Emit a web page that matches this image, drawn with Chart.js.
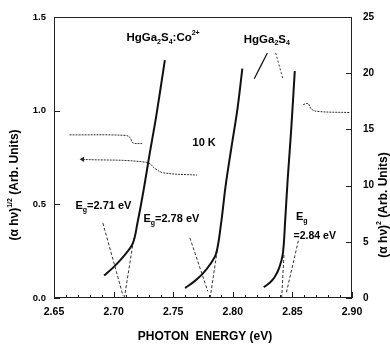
<!doctype html>
<html lang="en">
<head>
	<meta charset="utf-8">
	<title>Photon energy</title>
	<style>
		* { margin: 0; padding: 0; }
		body { background: #fff; }
		.chartBox { width: 390px; height: 344px; }
	</style>
</head>
<body>
	<div class="chartBox">
		<canvas id="gapChart"></canvas>
	</div>
	<script src="https://cdn.jsdelivr.net/npm/chart.js"></script>
	<script>
		// tick labels
		const xTicks = [2.65, 2.70, 2.75, 2.80, 2.85, 2.90]
		const leftTicks = [0.0, 0.5, 1.0, 1.5]
		const rightTicks = [0, 5, 10, 15, 20, 25]

		// HgGa2S4:Co2+ curve, (a hv)^1/2 on the left axis
		const coX = [2.692, 2.700, 2.708, 2.716, 2.720, 2.725, 2.730, 2.736, 2.743]
		const coY = [0.12, 0.165, 0.22, 0.29, 0.40, 0.57, 0.76, 0.98, 1.27]

		// HgGa2S4 curves, (a hv)^2 on the right axis
		const hgAX = [2.760, 2.768, 2.775, 2.781, 2.786, 2.790, 2.794, 2.799, 2.804, 2.808]
		const hgAY = [0.88, 1.5, 2.19, 3.0, 3.95, 6.5, 10.0, 13.5, 16.9, 20.4]
		const hgBX = [2.826, 2.831, 2.835, 2.839, 2.842, 2.844, 2.846, 2.849, 2.852]
		const hgBY = [0.96, 1.35, 1.84, 2.7, 3.95, 7.0, 10.5, 15.0, 20.2]

		// extrapolated edges (Eg)
		const coFitX = [2.709, 2.717]
		const coFitY = [0, 0.32]
		const hgAFitX = [2.781, 2.787]
		const hgAFitY = [0, 4.3]
		const hgBFitX = [2.841, 2.843]
		const hgBFitY = [0, 4.0]

		// pointer lines from the Eg labels
		const coPtrX = [2.691, 2.708]
		const coPtrY = [0.40, 0.01]
		const hgAPtrX = [2.764, 2.779]
		const hgAPtrY = [5.35, 0.6]
		const hgBPtrX = [2.855, 2.845]
		const hgBPtrY = [5.1, 0.5]

		// pointers from the HgGa2S4 label
		const topPtrAX = [2.829, 2.818]
		const topPtrAY = [21.8, 19.5]
		const topPtrBX = [2.836, 2.842]
		const topPtrBY = [21.8, 19.5]

		// axis arrows
		const arrowUpX = [2.663, 2.710, 2.714, 2.716, 2.724]
		const arrowUpY = [0.871, 0.868, 0.855, 0.829, 0.824]
		const arrowLeftX = [2.674, 2.728, 2.735, 2.742, 2.770]
		const arrowLeftY = [0.74, 0.724, 0.69, 0.668, 0.656]
		const arrowRightX = [2.859, 2.863, 2.866, 2.871, 2.898]
		const arrowRightY = [17.2, 17.3, 16.8, 16.6, 16.5]

		const pts = (xs, ys) => xs.map((x, i) => ({ x: x, y: ys[i] }))

		const solid = (xs, ys, axis, w) => ({
			data: pts(xs, ys), yAxisID: axis, borderColor: '#111', borderWidth: w,
			pointRadius: 0, tension: 0.35, fill: false
		})
		const dashed = (xs, ys, axis, dash) => ({
			data: pts(xs, ys), yAxisID: axis, borderColor: '#333', borderWidth: 1,
			borderDash: dash, pointRadius: 0, tension: 0, fill: false
		})

		const F = '"Liberation Sans", Arial, sans-serif'

		function richText(c, parts, x, y, size, align) {
			const big = 'bold ' + size + 'px ' + F
			const small = 'bold ' + Math.round(size * 0.62) + 'px ' + F
			let w = 0
			parts.forEach(p => { c.font = p[1] ? small : big; w += c.measureText(p[0]).width })
			let cx = align === 'center' ? x - w / 2 : x
			c.textBaseline = 'middle'
			c.textAlign = 'left'
			parts.forEach(p => {
				c.font = p[1] ? small : big
				const dy = p[1] === -1 ? size * 0.35 : (p[1] === 1 ? -size * 0.4 : 0)
				c.fillText(p[0], cx, y + dy)
				cx += c.measureText(p[0]).width
			})
		}

		const decor = {
			id: 'decor',
			afterDraw(chart) {
				const c = chart.ctx
				const a = chart.chartArea
				const sx = chart.scales.x, sl = chart.scales.y, sr = chart.scales.y2
				c.save()
				c.strokeStyle = '#222'
				c.lineWidth = 1
				c.strokeRect(a.left + 0.5, a.top + 0.5, a.right - a.left - 1, a.bottom - a.top - 1)
				// inward ticks
				c.beginPath()
				for (let i = 0; i <= 25; i++) {
					const px = Math.round(sx.getPixelForValue(2.65 + i * 0.01)) + 0.5
					const len = i % 5 === 0 ? 6 : 3
					c.moveTo(px, a.bottom); c.lineTo(px, a.bottom - len)
				}
				leftTicks.forEach(v => {
					const py = Math.round(sl.getPixelForValue(v)) + 0.5
					c.moveTo(a.left, py); c.lineTo(a.left + 6, py)
				})
				rightTicks.forEach(v => {
					const py = Math.round(sr.getPixelForValue(v)) + 0.5
					c.moveTo(a.right, py); c.lineTo(a.right - 6, py)
				})
				c.stroke()

				c.fillStyle = '#000'
				const at = (x, y, axis) => [sx.getPixelForValue(x), (axis === 'r' ? sr : sl).getPixelForValue(y)]
				let p = at(2.7415, 1.39, 'l')
				richText(c, [['HgGa', 0], ['2', -1], ['S', 0], ['4', -1], [':Co', 0], ['2+', 1]], p[0], p[1], 11.5, 'center')
				p = at(2.8285, 23.0, 'r')
				richText(c, [['HgGa', 0], ['2', -1], ['S', 0], ['4', -1]], p[0], p[1], 11.5, 'center')
				p = at(2.776, 13.8, 'r')
				richText(c, [['10 K', 0]], p[0], p[1], 11, 'center')
				p = at(2.668, 0.49, 'l')
				richText(c, [['E', 0], ['g', -1], ['=2.71 eV', 0]], p[0], p[1], 11, 'left')
				p = at(2.725, 0.42, 'l')
				richText(c, [['E', 0], ['g', -1], ['=2.78 eV', 0]], p[0], p[1], 11, 'left')
				p = at(2.853, 7.2, 'r')
				richText(c, [['E', 0], ['g', -1]], p[0], p[1], 11, 'left')
				p = at(2.851, 5.5, 'r')
				richText(c, [['=2.84 eV', 0]], p[0], p[1], 10.5, 'left')

				// axis titles
				richText(c, [['PHOTON  ENERGY (eV)', 0]], (a.left + a.right) / 2 + 2, 337, 12, 'center')
				c.save()
				c.translate(15, 185)
				c.rotate(-Math.PI / 2)
				richText(c, [['(\u03b1 h\u03bd)', 0], ['1/2', 1], [' (Arb. Units)', 0]], 0, 0, 12, 'center')
				c.restore()
				c.save()
				c.translate(384, 205)
				c.rotate(-Math.PI / 2)
				richText(c, [['(\u03b1 h\u03bd)', 0], ['2', 1], [' (Arb. Units)', 0]], 0, 0, 12, 'center')
				c.restore()
				c.restore()
			}
		}

		const gridOff = { display: false, drawTicks: false }

		const config = {
			type: 'line',
			data: {
				datasets: [
					solid(coX, coY, 'y', 2),
					solid(hgAX, hgAY, 'y2', 2),
					solid(hgBX, hgBY, 'y2', 2),
					dashed(coFitX, coFitY, 'y', [3, 2]),
					dashed(hgAFitX, hgAFitY, 'y2', [3, 2]),
					dashed(hgBFitX, hgBFitY, 'y2', [3, 2]),
					dashed(coPtrX, coPtrY, 'y', [3, 2]),
					dashed(hgAPtrX, hgAPtrY, 'y2', [3, 2]),
					dashed(hgBPtrX, hgBPtrY, 'y2', [3, 2]),
					solid(topPtrAX, topPtrAY, 'y2', 1.2),
					dashed(topPtrBX, topPtrBY, 'y2', [2, 2]),
					Object.assign(dashed(arrowUpX, arrowUpY, 'y', [2, 1]), { tension: 0.4 }),
					Object.assign(dashed(arrowLeftX, arrowLeftY, 'y', [2, 1]), {
						tension: 0.4,
						pointRadius: [3, 0, 0, 0, 0], pointStyle: 'triangle', rotation: -90,
						pointBackgroundColor: '#222', pointBorderWidth: 0
					}),
					Object.assign(dashed(arrowRightX, arrowRightY, 'y2', [2, 1]), { tension: 0.4 })
				]
			},
			options: {
				responsive: false,
				animation: false,
				layout: { padding: { top: 12, left: 0, right: 0, bottom: 0 } },
				plugins: { legend: { display: false }, tooltip: { enabled: false } },
				scales: {
					x: {
						type: 'linear', min: 2.65, max: 2.90,
						afterFit: s => { s.height = 46 },
						afterBuildTicks: s => { s.ticks = xTicks.map(v => ({ value: v })) },
						grid: gridOff, border: { display: false },
						ticks: { font: { family: F, size: 10.5, weight: 'bold' }, color: '#000',
							padding: 8, maxRotation: 0, callback: v => v.toFixed(2) }
					},
					y: {
						position: 'left', min: 0, max: 1.5,
						afterFit: s => { s.width = 54 },
						afterBuildTicks: s => { s.ticks = leftTicks.map(v => ({ value: v })) },
						grid: gridOff, border: { display: false },
						ticks: { font: { family: F, size: 9.5, weight: 'bold' }, color: '#000',
							padding: 8, callback: v => v.toFixed(1) }
					},
					y2: {
						position: 'right', min: 0, max: 25,
						afterFit: s => { s.width = 38 },
						afterBuildTicks: s => { s.ticks = rightTicks.map(v => ({ value: v })) },
						grid: gridOff, border: { display: false },
						ticks: { font: { family: F, size: 10, weight: 'bold' }, color: '#000', padding: 11 }
					}
				}
			},
			plugins: [decor]
		}

		const canvas = document.getElementById('gapChart')
		canvas.width = 390
		canvas.height = 344
		new Chart(canvas, config)
	</script>
</body>
</html>
